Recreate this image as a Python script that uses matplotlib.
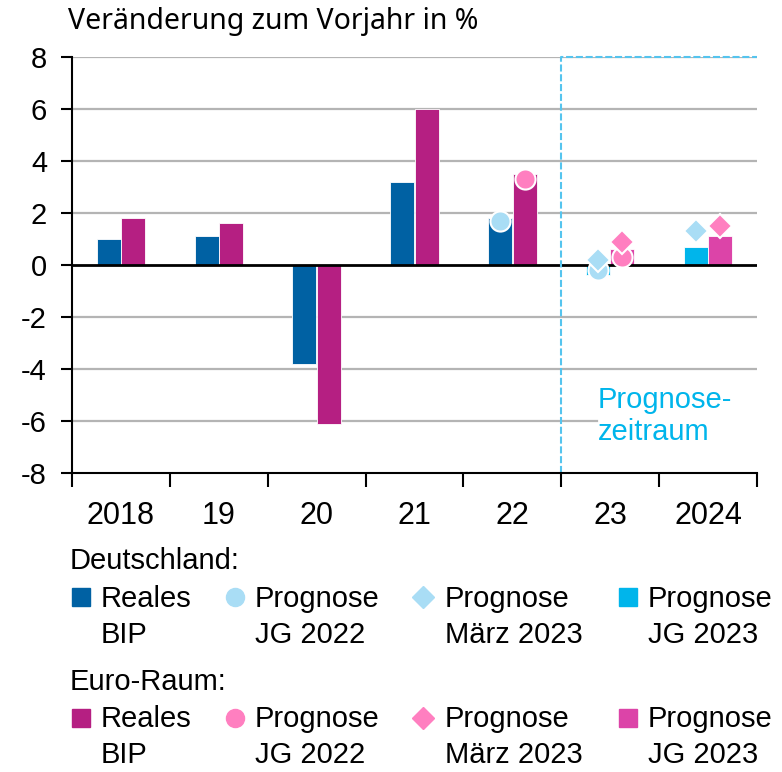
import matplotlib
matplotlib.use("Agg")

import matplotlib.pyplot as plt
from matplotlib.lines import Line2D
import numpy as np

# ── Data (Veränderung zum Vorjahr in %) ───────────────────────────────────────
YEARS = ["2018", "19", "20", "21", "22", "23", "2024"]
NAN = np.nan

DE_REAL  = [1.0, 1.1, -3.8, 3.2, 1.8, NAN, NAN]
DE_JG22  = [NAN, NAN, NAN, NAN, 1.7, -0.2, NAN]
DE_MAR23 = [NAN, NAN, NAN, NAN, NAN, 0.2, 1.3]
DE_JG23  = [NAN, NAN, NAN, NAN, NAN, -0.4, 0.7]

EU_REAL  = [1.8, 1.6, -6.1, 6.0, 3.5, NAN, NAN]
EU_JG22  = [NAN, NAN, NAN, NAN, 3.3, 0.3, NAN]
EU_MAR23 = [NAN, NAN, NAN, NAN, NAN, 0.9, 1.5]
EU_JG23  = [NAN, NAN, NAN, NAN, NAN, 0.6, 1.1]

Y_TICKS = [-8, -6, -4, -2, 0, 2, 4, 6, 8]
FORECAST_START = 4.5          # boundary between 22 and 23

# ── Colours ───────────────────────────────────────────────────────────────────
C_DE_REAL = "#0061A3"
C_DE_LIGHT = "#A9DDF5"
C_DE_JG23 = "#00B5EB"
C_EU_REAL = "#B51F82"
C_EU_LIGHT = "#FF7FC0"
C_EU_JG23 = "#DC44A8"
C_GRID = "#B4B4B4"
C_DASH = "#55C4EE"

FONT = "Liberation Sans"
plt.rcParams["font.family"] = [FONT, "DejaVu Sans"]
FS = 21

W, H = 782, 772
fig = plt.figure(figsize=(W / 100, H / 100), dpi=100)
ax = fig.add_axes([72 / W, 1 - 473 / H, (757 - 72) / W, (473 - 57) / H])

x = np.arange(len(YEARS))
bw, off = 0.245, 0.125


def bars(xpos, vals, color):
    vals = np.asarray(vals, dtype=float)
    m = ~np.isnan(vals)
    ax.bar(xpos[m], vals[m], bw, color=color, edgecolor="white",
           linewidth=0.6, zorder=3)


bars(x - off, DE_REAL, C_DE_REAL)
bars(x - off, DE_JG23, C_DE_JG23)
bars(x + off, EU_REAL, C_EU_REAL)
bars(x + off, EU_JG23, C_EU_JG23)

mk = dict(ls="none", markeredgecolor="white", markeredgewidth=1.5, zorder=6)
ax.plot(x - off, DE_JG22, "o", ms=14.5, color=C_DE_LIGHT, **mk)
ax.plot(x + off, EU_JG22, "o", ms=14.5, color=C_EU_LIGHT, **mk)
ax.plot(x - off, DE_MAR23, "D", ms=12.5, color=C_DE_LIGHT, **mk)
ax.plot(x + off, EU_MAR23, "D", ms=12.5, color=C_EU_LIGHT, **mk)

# grid lines (the -6 line stops at the "Prognosezeitraum" label)
for t in Y_TICKS:
    if t in (0, -8):
        continue
    xmax = 0.766 if t == -6 else 1.0
    ax.axhline(t, xmax=xmax, color=C_GRID, lw=1.6, zorder=1)
ax.axhline(0, color="black", lw=2.0, zorder=4)

# forecast period frame
ax.plot([FORECAST_START, FORECAST_START, len(YEARS) - 0.5], [-8, 8, 8],
        color=C_DASH, lw=1.5, ls=(0, (3.4, 1.3)), zorder=5, clip_on=False)
ax.text(4.875, -6.75, "Prognose-\nzeitraum", color=C_DE_JG23, fontsize=FS,
        ha="left", va="baseline", linespacing=1.2, zorder=5)

ax.set_xlim(-0.5, len(YEARS) - 0.5)
ax.set_ylim(-8, 8)
ax.set_yticks(Y_TICKS)
ax.set_yticklabels([str(t) for t in Y_TICKS], fontsize=FS)
ax.set_xticks(x)
ax.set_xticklabels(YEARS, fontsize=22)
ax.set_xticks(np.arange(-0.5, len(YEARS), 1), minor=True)
ax.tick_params(axis="x", which="major", length=0, pad=20)
ax.tick_params(axis="x", which="minor", length=10, width=1.5, direction="out")
ax.tick_params(axis="y", length=8, width=1.5, direction="out", pad=10)
for s in ("top", "right"):
    ax.spines[s].set_visible(False)
for s in ("left", "bottom"):
    ax.spines[s].set_linewidth(1.5)
    ax.spines[s].set_zorder(7)

fig.text(68 / W, 1 - 22 / H, "Veränderung zum Vorjahr in %", fontsize=20.5,
         family=["Noto Sans", "DejaVu Sans"], va="center", ha="left")


# ── Legend (drawn by hand to keep the two-line labels) ───────────────────────
def fx(px):
    return px / W


def fy(py):
    return 1 - py / H


def legend_row(heading, y_head, y_mark, y_base1, entries):
    fig.text(fx(70), fy(y_head), heading, fontsize=FS, va="baseline")
    for mx, tx, marker, ms, color, l1, l2 in entries:
        fig.add_artist(Line2D([fx(mx)], [fy(y_mark)], marker=marker, ms=ms,
                              color=color, ls="none",
                              transform=fig.transFigure))
        fig.text(fx(tx), fy(y_base1), l1, fontsize=FS, va="baseline")
        fig.text(fx(tx), fy(y_base1 + 36), l2, fontsize=FS, va="baseline")


legend_row("Deutschland:", 569, 597, 607, [
    (81, 101, "s", 13.5, C_DE_REAL, "Reales", "BIP"),
    (235, 255, "o", 13, C_DE_LIGHT, "Prognose", "JG 2022"),
    (423, 445, "D", 11, C_DE_LIGHT, "Prognose", "März 2023"),
    (628, 648, "s", 13.5, C_DE_JG23, "Prognose", "JG 2023"),
])
legend_row("Euro-Raum:", 690, 718, 727, [
    (81, 101, "s", 13.5, C_EU_REAL, "Reales", "BIP"),
    (235, 255, "o", 13, C_EU_LIGHT, "Prognose", "JG 2022"),
    (423, 445, "D", 11, C_EU_LIGHT, "Prognose", "März 2023"),
    (628, 648, "s", 13.5, C_EU_JG23, "Prognose", "JG 2023"),
])

fig.savefig("out.png", dpi=100)
